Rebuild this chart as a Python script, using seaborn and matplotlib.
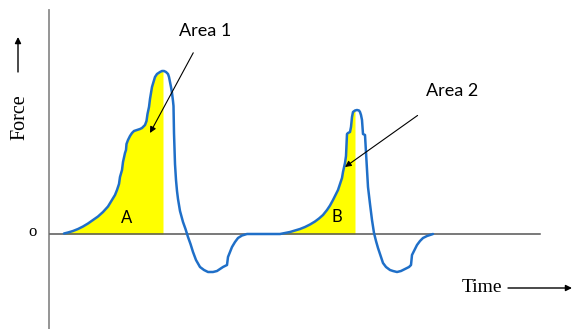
import numpy as np
import pandas as pd
import matplotlib
matplotlib.use("Agg")
import matplotlib.pyplot as plt
import seaborn as sns

# ---- data (time, force) ----
time = [64, 68, 73, 78, 83, 88, 93, 98, 103, 108, 112, 115, 117, 119, 120, 122, 123, 125, 126,
        126.5, 128, 130, 132, 134, 137, 140, 142, 145, 146.5, 147.5, 149, 150, 151, 152, 153.5,
        155, 157, 160, 162, 164, 166, 168, 169, 170, 171, 172, 173, 173.5, 174, 175, 176,
        177, 178, 180, 183, 185.5, 188, 190.5, 193, 196, 200, 204, 208, 213, 217, 220, 223, 227,
        228, 230, 232, 235, 238, 242, 247,
        280, 285, 290, 295, 300, 305, 310, 315, 319, 323, 327, 330, 333, 335, 338, 340, 342,
        343, 345, 346, 347, 348, 350, 351, 352, 353, 355, 357, 359, 360, 361, 362, 363, 365,
        366, 367, 368, 370, 372, 374, 376, 378, 380, 383, 386, 390, 393, 397, 401, 405, 409,
        411, 412, 414, 417, 420, 423, 427, 433]
force = [0.5, 1.5, 3, 5, 7.5, 10.5, 14, 17.5, 22, 27.5, 34, 39, 44, 50, 57, 64, 72, 81, 84,
         90, 94, 98, 101, 103, 104, 105, 106, 109, 113, 120, 127, 135, 141, 147, 152,
         157, 160, 162, 163, 163, 162, 160, 157, 152, 147, 141, 133, 128, 101, 70, 54,
         43, 35, 23, 12, 5, -3, -10, -18, -26, -33, -36, -38, -38, -37, -35, -33, -31,
         -23, -18, -13, -8, -4, -1.5, 0,
         0, 1, 2, 3.5, 5, 7, 9.5, 12.5, 15.5, 19, 24, 28.5, 34, 38, 44, 50, 56,
         62, 71, 78, 100, 101, 102, 107, 117, 122, 123.5, 124, 123.5, 122, 119, 114, 100, 99,
         81, 64, 47, 30, 14, 1, -7, -14, -20, -29, -33, -36, -37, -38, -37, -35, -33,
         -31, -21, -17, -11, -7, -4, -2, 0]

area_ends = [(64, 163), (280, 355)]     # shaded impulse ranges (A, B)
area_labels = ["A", "B"]

df = pd.DataFrame({"Time": time, "Force": force})

fig = plt.figure(figsize=(5.72, 3.29), dpi=100)
ax = fig.add_axes([0, 0, 1, 1])

t = np.array(time, dtype=float)
f = np.array(force, dtype=float)

# yellow areas
for (a, b) in area_ends:
    m = (t >= a) & (t <= b)
    tt = np.concatenate([t[m], [b]])
    ff = np.concatenate([f[m], [np.interp(b, t, f)]])
    ax.fill_between(tt, 0, ff, color="#ffff00", linewidth=0, zorder=1)

# axes lines
ax.plot([49, 49], [224, -95], color="#8c8c8c", lw=1.3, zorder=2)
ax.plot([50, 540], [0, 0], color="#555555", lw=1.1, zorder=2)

# force curve
sns.lineplot(data=df, x="Time", y="Force", sort=False, estimator=None, ax=ax,
             color="#1f6fc8", linewidth=1.8, zorder=3,
             solid_joinstyle="round", solid_capstyle="round")
ax.axis("off")
ax.set_xlim(0, 572)
ax.set_ylim(-95, 234)

sans = ["Lato", "DejaVu Sans"]
serif = ["Liberation Serif", "DejaVu Serif"]

ax.text(127, 16, area_labels[0], fontsize=12, family=sans, ha="center", va="center", zorder=4)
ax.text(337, 17, area_labels[1], fontsize=12, family=sans, ha="center", va="center", zorder=4)

ax.annotate("Area 1", xy=(150, 101), xytext=(205, 203), fontsize=13, family=sans,
            ha="center", va="center",
            arrowprops=dict(arrowstyle="-|>", color="black", lw=0.8,
                            shrinkA=9, shrinkB=0, mutation_scale=9))
ax.annotate("Area 2", xy=(345, 67), xytext=(452, 143), fontsize=13, family=sans,
            ha="center", va="center",
            arrowprops=dict(arrowstyle="-|>", color="black", lw=0.8,
                            shrinkA=17, shrinkB=0, mutation_scale=9))

ax.text(20, 117, "Force", fontsize=14.5, family=serif, rotation=90, ha="center", va="center")
ax.annotate("", xy=(18, 197), xytext=(18, 162),
            arrowprops=dict(arrowstyle="-|>", color="black", lw=1.0, mutation_scale=9,
                            shrinkA=0, shrinkB=0))
ax.text(482, -54, "Time", fontsize=14, family=serif, ha="center", va="center")
ax.annotate("", xy=(572, -54), xytext=(508, -54),
            arrowprops=dict(arrowstyle="-|>", color="black", lw=1.0, mutation_scale=9,
                            shrinkA=0, shrinkB=0))
ax.text(33, 2, "o", fontsize=12, family=serif, ha="center", va="center")

fig.savefig("out.png", dpi=100)
